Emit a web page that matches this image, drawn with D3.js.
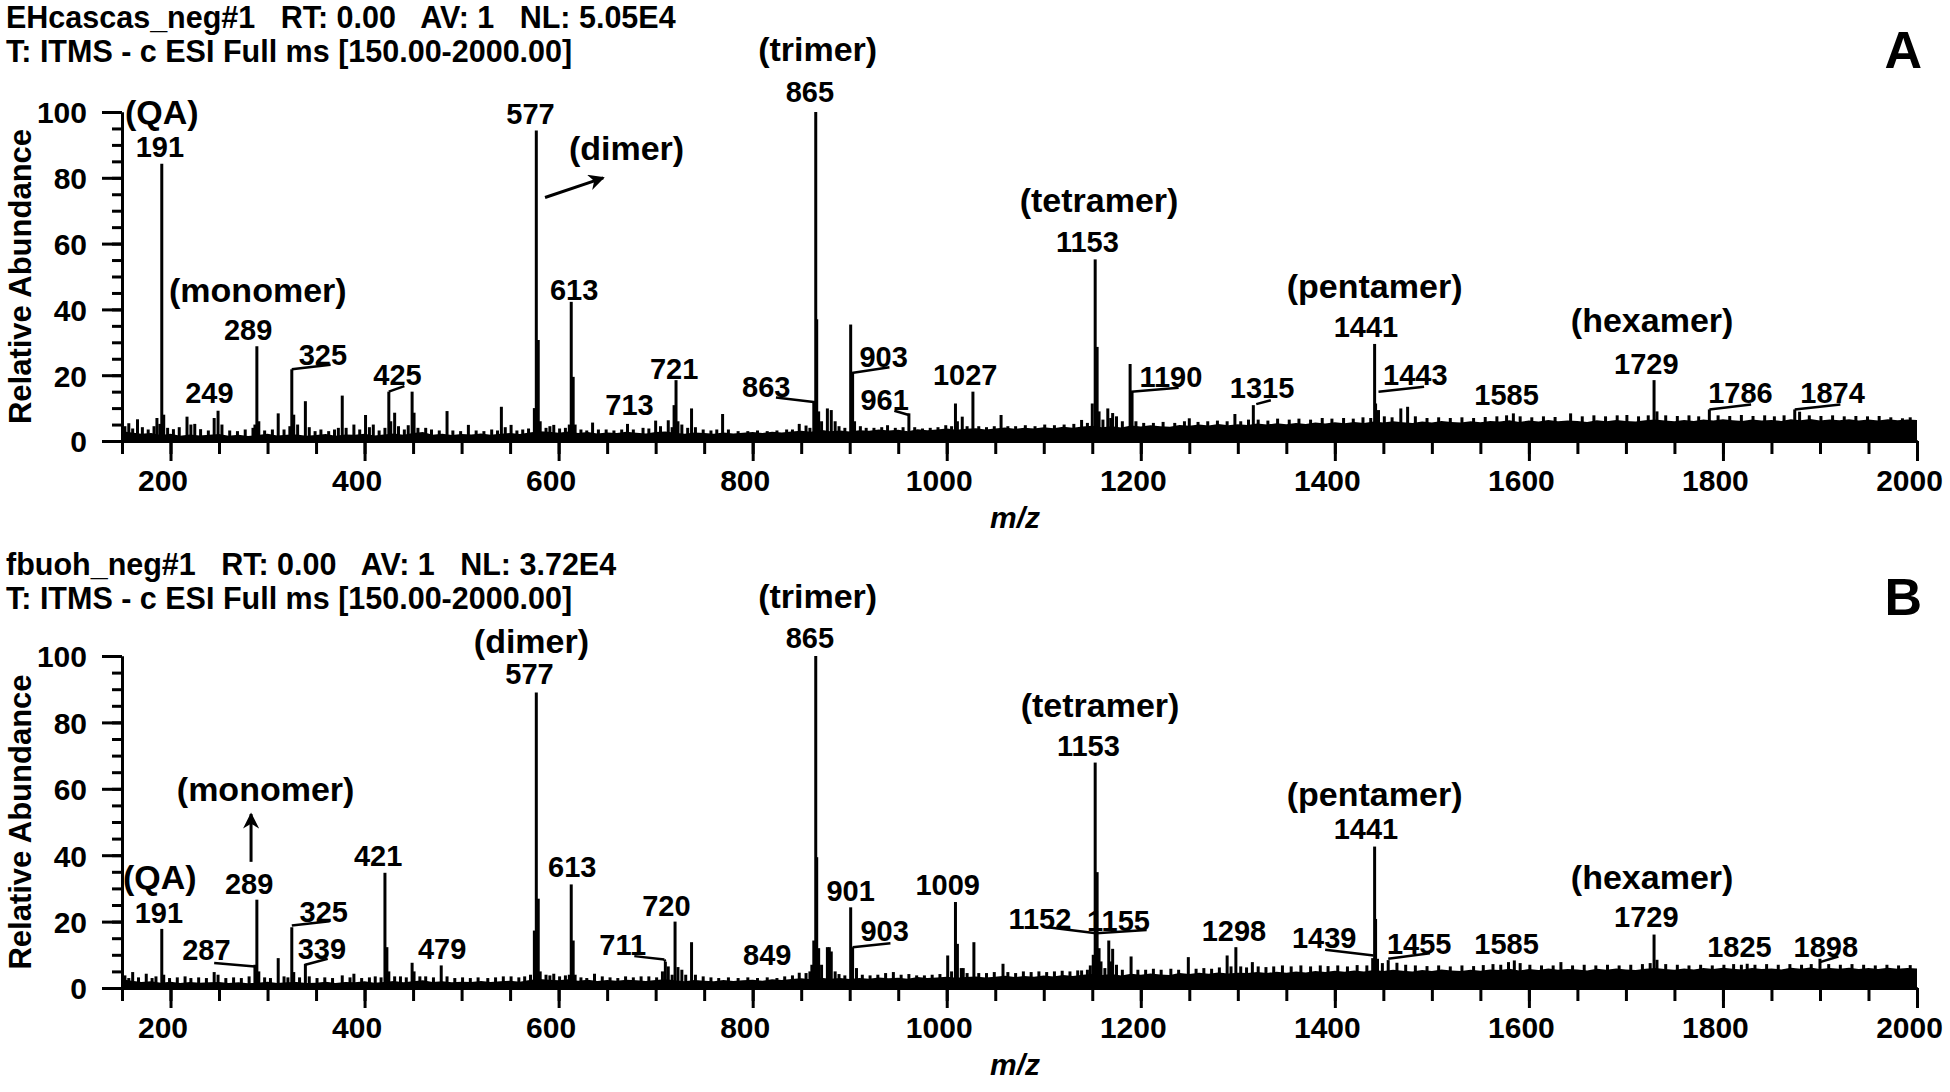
<!DOCTYPE html>
<html>
<head>
<meta charset="utf-8">
<script src="https://cdn.jsdelivr.net/npm/d3@7"></script>
<style>
  body { margin: 0; background: #fff; }
  text { font-family: "Liberation Sans", Arial, sans-serif; font-weight: bold; fill: #000; }
  .axis path, .axis line { stroke: #000; stroke-width: 3; }
</style>
</head>
<body>
<svg id="chart" width="1950" height="1092"></svg>
<script>
// ---- data (m/z, relative abundance %) ----
const xTicks = [200, 400, 600, 800, 1000, 1200, 1400, 1600, 1800, 2000];
const yTicks = [0, 20, 40, 60, 80, 100];

const titleA = ["EHcascas_neg#1   RT: 0.00   AV: 1   NL: 5.05E4", "T: ITMS - c ESI Full ms [150.00-2000.00]"];
const titleB = ["fbuoh_neg#1   RT: 0.00   AV: 1   NL: 3.72E4", "T: ITMS - c ESI Full ms [150.00-2000.00]"];

// baseline "grass", one value every 10 m/z from 150 to 2000
const noiseMz = d3.range(150, 2001, 10);
const noiseA = [
  3.0,2.6,2.2,2.4,1.8,2.2,1.6,2.0,1.7,1.9,
  2.1,1.6,1.9,1.5,1.8,2.2,1.7,1.9,2.0,1.6,
  1.8,2.1,1.6,2.0,1.9,2.2,1.7,2.0,2.3,1.9,
  2.4,2.7,1.9,2.2,1.8,2.1,2.0,2.3,1.9,2.2,
  2.4,2.1,2.6,3.0,2.8,2.5,2.9,2.4,2.7,2.3,
  2.6,2.4,2.8,2.5,2.3,2.7,2.9,2.5,2.2,2.6,
  2.4,2.2,2.6,2.3,2.5,2.7,2.4,2.8,2.6,2.9,
  3.1,2.8,3.4,3.0,3.2,2.9,3.3,3.1,3.5,3.2,
  3.4,3.0,3.6,3.3,3.5,3.8,3.4,3.7,3.9,3.5,
  3.8,4.1,3.7,4.0,3.8,4.2,3.9,4.3,4.0,4.4,
  4.6,4.2,4.5,4.1,4.7,4.4,4.8,4.5,4.3,4.9,
  4.6,5.0,4.7,5.2,4.8,5.1,4.9,5.3,5.0,5.4,
  5.1,5.5,5.2,5.6,5.3,5.7,5.4,5.8,5.5,5.9,
  5.6,6.0,5.7,5.5,5.9,5.6,6.1,5.8,5.6,6.0,
  5.7,6.1,5.9,6.3,5.8,6.2,5.9,6.4,6.0,6.2,
  6.1,5.8,6.3,6.0,6.4,6.1,5.9,6.3,6.5,6.2,
  6.0,6.4,6.1,6.5,6.2,6.6,6.3,6.1,6.5,6.2,
  6.4,6.1,6.6,6.3,6.7,6.2,6.5,6.3,6.6,6.2,
  6.5,6.2,6.6,6.3,6.5,6.4
];
const noiseB = [
  2.6,2.2,1.8,2.0,1.6,1.9,1.5,1.8,1.6,1.7,
  1.8,1.5,1.7,1.4,1.6,1.9,1.5,1.7,1.8,1.5,
  1.6,1.9,1.5,1.8,1.7,2.0,1.6,1.8,2.1,1.7,
  2.0,2.3,1.8,2.0,1.7,1.9,1.8,2.1,1.8,2.0,
  2.2,1.9,2.4,2.7,2.5,2.3,2.6,2.2,2.5,2.1,
  2.4,2.2,2.5,2.3,2.1,2.4,2.6,2.3,2.0,2.4,
  2.2,2.0,2.4,2.1,2.3,2.5,2.2,2.6,2.4,2.7,
  2.9,2.6,3.1,2.8,3.0,2.7,3.0,2.8,3.2,2.9,
  3.1,2.8,3.3,3.0,3.2,3.4,3.1,3.3,3.5,3.2,
  3.4,3.7,3.3,3.6,3.4,3.8,3.5,3.9,3.6,4.0,
  4.2,3.9,4.2,3.8,4.3,4.0,4.4,4.1,3.9,4.5,
  4.2,4.6,4.3,4.7,4.4,4.6,4.5,4.8,4.5,4.9,
  4.6,5.0,4.7,5.1,4.8,5.2,4.9,5.3,5.0,5.4,
  5.1,5.5,5.2,5.0,5.4,5.1,5.6,5.3,5.1,5.5,
  5.2,5.6,5.4,5.8,5.3,5.7,5.4,5.9,5.5,5.7,
  5.6,5.3,5.8,5.5,5.9,5.6,5.4,5.8,6.0,5.7,
  5.5,5.9,5.6,6.0,5.7,6.1,5.8,5.6,6.0,5.7,
  5.9,5.6,6.1,5.8,6.2,5.7,6.0,5.8,6.1,5.7,
  6.0,5.7,6.1,5.8,6.0,5.9
];

const peaksA = [
  [153,4.5],[157,5.4],[161,3.8],[166,6.6],[171,4.2],[177,3.5],[183,4.5],[186,7.0],[189,5.2],[191,84.3],
  [193,8.0],[197,4.0],[203,3.6],[209,4.2],[217,7.4],[221,5.0],[225,5.2],[231,3.6],[239,3.2],[245,7.0],
  [249,9.2],[253,5.0],[261,3.2],[269,3.0],[277,3.5],[285,4.0],[287,5.0],[289,28.8],[291,6.0],[297,3.2],
  [305,3.5],[311,8.4],[317,3.5],[323,4.5],[325,21.8],[327,8.0],[331,5.0],[339,12.1],[343,4.2],[349,3.0],
  [355,3.5],[363,3.0],[369,3.5],[373,4.0],[377,13.8],[381,4.0],[389,5.0],[395,3.5],[401,7.9],[405,4.2],
  [409,5.0],[415,3.2],[421,4.0],[425,15.0],[427,6.0],[431,8.6],[435,4.5],[441,3.5],[445,4.8],[449,15.0],
  [451,8.6],[455,4.0],[463,4.0],[469,3.5],[477,3.2],[485,9.1],[491,3.2],[499,3.0],[507,4.9],[515,3.2],
  [523,3.0],[531,3.5],[537,3.2],[541,10.4],[545,4.2],[551,4.9],[557,3.2],[563,3.5],[569,3.8],[575,10.0],
  [577,94.4],[579,30.7],[581,6.0],[587,4.0],[591,4.5],[595,4.9],[601,3.8],[607,4.0],[611,5.0],[613,42.3],
  [615,19.5],[617,5.0],[623,3.5],[629,3.2],[635,5.6],[641,3.5],[649,3.5],[657,3.2],[665,3.5],[671,5.2],
  [677,3.5],[687,4.0],[693,3.8],[700,6.2],[705,4.5],[713,6.3],[717,4.2],[719,10.9],[721,18.5],[723,6.0],
  [727,5.0],[733,4.0],[737,9.9],[741,4.2],[749,3.5],[757,3.2],[763,3.5],[769,8.2],[775,3.5],[785,3.0],
  [795,3.0],[805,3.2],[815,3.0],[825,3.2],[835,3.5],[841,3.5],[848,5.2],[855,4.7],[859,4.0],[863,12.0],
  [865,100],[866,37.0],[868,9.0],[871,6.0],[877,9.9],[881,9.4],[885,6.0],[889,4.5],[895,4.0],[901,35.4],
  [903,20.7],[905,6.0],[911,4.5],[917,4.0],[925,4.0],[933,4.2],[939,4.8],[947,4.0],[955,4.2],[961,8.4],
  [967,4.2],[975,3.8],[983,4.0],[991,4.2],[999,4.8],[1005,4.5],[1009,11.4],[1011,6.0],[1016,7.4],[1021,4.5],
  [1027,15.0],[1033,4.5],[1041,4.2],[1049,4.5],[1056,7.9],[1063,4.5],[1071,4.5],[1081,4.8],[1091,4.5],[1101,5.0],
  [1111,4.8],[1121,5.0],[1131,5.2],[1139,6.4],[1145,5.5],[1150,11.4],[1153,55.2],[1155,28.6],[1157,9.0],[1161,6.5],
  [1166,9.9],[1169,7.0],[1171,8.5],[1175,7.5],[1181,6.0],[1189,23.4],[1191,15.0],[1195,6.0],[1203,5.5],[1213,5.5],
  [1223,5.8],[1235,5.5],[1245,6.0],[1250,6.9],[1259,5.8],[1269,6.0],[1279,6.2],[1289,6.0],[1297,8.2],[1303,6.0],
  [1311,6.5],[1316,10.9],[1321,6.5],[1331,6.2],[1341,6.8],[1353,6.5],[1363,6.8],[1375,6.5],[1387,7.0],[1397,6.8],
  [1409,7.0],[1419,6.8],[1429,7.2],[1437,7.0],[1441,29.5],[1442,11.4],[1445,9.4],[1451,7.5],[1459,7.2],[1468,9.9],
  [1475,10.4],[1483,7.5],[1495,7.0],[1507,7.2],[1519,7.0],[1531,7.2],[1543,7.0],[1555,7.3],[1567,7.5],[1577,7.8],
  [1584,8.4],[1591,7.5],[1603,7.2],[1615,7.5],[1627,7.3],[1643,8.4],[1655,7.5],[1667,7.8],[1679,7.5],[1691,7.8],
  [1701,7.9],[1713,7.5],[1723,7.8],[1729,18.5],[1732,9.0],[1741,7.8],[1753,7.6],[1765,7.8],[1775,7.5],[1786,9.6],
  [1795,7.8],[1807,7.6],[1819,7.9],[1831,7.6],[1843,7.8],[1853,7.5],[1863,7.8],[1874,9.6],[1879,8.9],[1889,7.8],
  [1901,7.6],[1913,7.8],[1925,7.5],[1937,7.6],[1949,7.5],[1961,7.6],[1973,7.2],[1985,6.9],[1993,7.2]
];

const peaksB = [
  [153,3.8],[157,3.0],[161,4.8],[167,3.2],[175,4.3],[181,3.0],[185,3.5],[191,17.8],[193,4.0],[199,3.0],
  [207,3.2],[215,3.5],[221,3.0],[229,3.2],[237,3.0],[245,4.8],[249,4.0],[257,3.0],[265,3.2],[273,3.0],
  [281,3.5],[287,7.0],[289,26.6],[291,5.0],[297,3.2],[303,3.0],[311,9.0],[317,3.5],[321,3.2],[325,18.3],
  [327,4.8],[333,3.2],[339,7.3],[343,3.5],[351,3.0],[359,3.2],[367,3.0],[377,3.8],[385,3.2],[389,4.3],
  [397,3.0],[405,3.2],[411,3.5],[417,3.2],[421,34.7],[423,12.3],[425,5.0],[431,3.5],[437,3.5],[443,3.2],
  [449,7.6],[451,5.0],[457,3.5],[463,3.5],[471,3.2],[479,6.8],[485,3.5],[493,3.0],[501,3.2],[509,3.0],
  [517,3.2],[527,3.0],[535,3.2],[543,3.5],[551,3.5],[559,3.2],[565,3.5],[571,4.0],[575,17.3],[577,89.0],
  [579,26.9],[581,5.0],[587,4.0],[591,3.8],[595,4.3],[601,3.5],[607,3.8],[611,4.0],[613,31.2],[615,14.3],
  [617,4.0],[623,3.2],[629,3.0],[637,4.3],[645,3.5],[653,3.2],[661,3.0],[669,3.5],[677,3.2],[685,3.5],
  [693,3.5],[701,3.2],[707,5.0],[710,7.9],[713,6.5],[717,4.0],[720,20.0],[723,6.3],[727,5.5],[731,4.0],
  [737,13.8],[741,4.0],[749,3.5],[757,3.2],[765,3.0],[775,3.2],[785,3.0],[795,3.2],[805,3.0],[815,3.2],
  [825,3.0],[833,3.5],[841,3.8],[848,4.6],[855,4.5],[859,5.0],[861,7.0],[863,14.3],[865,100],[866,39.4],
  [868,12.0],[871,7.0],[877,12.3],[879,12.3],[881,11.0],[885,5.0],[889,4.2],[895,3.8],[901,24.3],[903,12.3],
  [907,6.0],[913,4.0],[921,3.8],[929,4.0],[937,4.5],[945,4.8],[953,4.0],[961,4.2],[969,3.8],[977,3.8],
  [985,4.0],[993,4.2],[1001,9.8],[1005,5.0],[1009,25.9],[1011,13.3],[1015,6.0],[1017,6.0],[1021,4.5],[1028,13.8],
  [1033,4.5],[1041,4.5],[1049,4.8],[1058,7.3],[1063,4.8],[1071,4.5],[1079,5.0],[1087,4.8],[1095,5.0],[1103,4.8],
  [1111,5.0],[1119,5.2],[1127,5.0],[1135,5.3],[1139,5.3],[1145,5.5],[1148,6.8],[1151,10.0],[1153,67.9],[1155,34.9],
  [1157,12.0],[1159,8.0],[1163,6.0],[1167,14.3],[1169,8.0],[1171,11.8],[1175,7.0],[1181,5.5],[1190,9.5],[1197,5.5],
  [1205,5.5],[1213,5.8],[1221,5.5],[1231,5.8],[1239,5.5],[1249,9.3],[1257,5.8],[1265,6.0],[1273,5.8],[1281,6.2],
  [1289,9.8],[1293,6.5],[1298,12.3],[1303,6.5],[1309,6.2],[1315,7.8],[1321,6.5],[1329,6.3],[1337,6.5],[1346,6.8],
  [1355,6.5],[1365,6.8],[1375,6.5],[1385,6.8],[1393,6.6],[1403,6.8],[1413,6.5],[1423,6.9],[1433,6.8],[1439,9.0],
  [1441,42.6],[1442,20.8],[1444,8.8],[1449,7.5],[1455,8.4],[1464,7.6],[1473,7.0],[1483,6.8],[1495,6.6],[1507,6.8],
  [1519,6.5],[1531,6.8],[1543,6.6],[1553,6.9],[1563,7.2],[1571,7.0],[1579,7.8],[1585,8.3],[1591,7.5],[1601,7.0],
  [1613,6.8],[1625,6.8],[1633,7.8],[1645,6.8],[1657,7.0],[1669,6.8],[1681,7.0],[1693,6.8],[1705,7.0],[1717,7.2],
  [1725,7.5],[1729,16.1],[1732,8.5],[1741,7.2],[1753,7.0],[1765,6.8],[1777,7.0],[1789,6.8],[1801,7.0],[1811,7.2],
  [1819,7.0],[1825,7.3],[1833,7.0],[1845,7.2],[1857,7.0],[1869,7.2],[1881,7.0],[1891,7.2],[1900,8.8],[1909,7.2],
  [1921,7.0],[1933,7.2],[1945,7.0],[1957,6.8],[1969,7.0],[1981,6.8],[1993,6.9]
];

// annotations: [text, m/z, abundance of text baseline]
const labelsA = [
  ["(QA)", 191, 96.5], ["191", 189, 86.3], ["(monomer)", 290, 42.3], ["289", 280, 30.7],
  ["249", 240, 11.4], ["325", 357, 23], ["425", 434, 17], ["577", 571, 96.5],
  ["(dimer)", 670, 85.5], ["613", 616, 42.8], ["713", 673, 7.9], ["721", 719, 18.7],
  ["863", 814, 13.5], ["865", 859, 103], ["(trimer)", 867, 115.5], ["903", 935, 22.6],
  ["961", 936, 9.4], ["1027", 1019, 17], ["(tetramer)", 1157, 69.6], ["1153", 1145, 57.5],
  ["1190", 1231, 16.5], ["1315", 1325, 13], ["(pentamer)", 1441, 43.5], ["1441", 1432, 31.7],
  ["1443", 1483, 17], ["1585", 1577, 10.9], ["(hexamer)", 1727, 33.2], ["1729", 1721, 20.5],
  ["1786", 1818, 11.4], ["1874", 1913, 11.4]
];
const labelsB = [
  ["(dimer)", 572, 101], ["577", 570, 91.5], ["(monomer)", 298, 56.4], ["(QA)", 189, 29.9],
  ["289", 281, 28.4], ["191", 188, 19.5], ["325", 358, 19.8], ["287", 237, 8.3],
  ["339", 356, 8.8], ["421", 414, 36.6], ["479", 480, 8.8], ["613", 614, 33.4],
  ["711", 666, 9.9], ["720", 711, 21.8], ["849", 815, 6.9], ["865", 859, 102.5],
  ["(trimer)", 867, 114.5], ["901", 901, 26.2], ["903", 936, 14.3], ["1009", 1001, 27.9],
  ["(tetramer)", 1158, 81.5], ["1153", 1146, 70], ["1152", 1096, 17.8], ["1155", 1177, 17.3],
  ["1298", 1296, 14.3], ["1439", 1389, 12], ["1441", 1432, 44.9], ["(pentamer)", 1441, 54.9],
  ["1455", 1487, 10.3], ["1585", 1577, 10.3], ["(hexamer)", 1727, 29.9], ["1729", 1721, 18.3],
  ["1825", 1817, 9.3], ["1898", 1906, 9.3]
];

// leader lines: [m/z1, abundance1, m/z2, abundance2]
const leadersA = [
  [325, 21.8, 365, 23.2], [425, 15, 441, 16.7], [824, 13.2, 865, 11.8], [902, 20.7, 941, 22.4],
  [946, 9.2, 961, 7.9], [1190, 15, 1239, 16.2], [1319, 11.2, 1334, 12.4], [1445, 15, 1492, 16.5],
  [1786, 9.6, 1829, 11.1], [1874, 9.6, 1921, 11.1]
];
const leadersB = [
  [325, 18.8, 364, 20.1], [245, 7.5, 287, 6.5], [339, 7, 362, 8.8], [678, 9.6, 709, 8.6],
  [709, 8.6, 710, 7.9], [903, 12.3, 942, 13.5], [1104, 18.3, 1154, 16.5], [1154, 16.5, 1206, 17.5],
  [1390, 11.5, 1440, 9.8], [1455, 8.8, 1498, 10.5], [1900, 7.8, 1919, 9.5]
];

// arrows: [m/z from, abundance from, m/z to, abundance to]
const arrowsA = [[586, 74, 646, 80]];
const arrowsB = [[283, 38, 283, 52.4]];

const panels = [
  { letter: "A", title: titleA, noise: noiseA, peaks: peaksA, labels: labelsA, leaders: leadersA, arrows: arrowsA, top: 112, bottom: 441 },
  { letter: "B", title: titleB, noise: noiseB, peaks: peaksB, labels: labelsB, leaders: leadersB, arrows: arrowsB, top: 656, bottom: 988 }
];

const svg = d3.select("#chart");
const x = d3.scaleLinear().domain([150, 2000]).range([122, 1917]);

svg.append("defs").append("marker")
  .attr("id", "arrow")
  .attr("viewBox", "0 0 10 10")
  .attr("refX", 9).attr("refY", 5)
  .attr("markerUnits", "userSpaceOnUse")
  .attr("markerWidth", 20).attr("markerHeight", 16)
  .attr("orient", "auto")
  .append("path")
  .attr("d", "M0,0 L10,5 L0,10 L3,5 Z")
  .attr("fill", "#000");

function drawPanel(p) {
  const y = d3.scaleLinear().domain([0, 100]).range([p.bottom, p.top]);
  const g = svg.append("g");

  // baseline grass
  const area = d3.area()
    .x(d => x(d[0]))
    .y0(y(0))
    .y1(d => y(d[1]));
  g.append("path")
    .datum(d3.zip(noiseMz, p.noise))
    .attr("d", area)
    .attr("fill", "#000");

  // peaks as sticks
  g.append("g").selectAll("line")
    .data(p.peaks)
    .join("line")
    .attr("x1", d => x(d[0])).attr("x2", d => x(d[0]))
    .attr("y1", y(0)).attr("y2", d => y(d[1]))
    .attr("stroke", "#000")
    .attr("stroke-width", 3);

  // axes: minor + major ticks
  g.append("g").attr("class", "axis")
    .attr("transform", `translate(${x(150)},0)`)
    .call(d3.axisLeft(y).tickValues(d3.range(0, 101, 5)).tickSize(10).tickSizeOuter(0).tickFormat(""));
  const yAx = g.append("g").attr("class", "axis")
    .attr("transform", `translate(${x(150)},0)`)
    .call(d3.axisLeft(y).tickValues(yTicks).tickSize(20).tickSizeOuter(0).tickPadding(15));
  yAx.selectAll("text").attr("font-size", 30).attr("dy", "0.36em");

  g.append("g").attr("class", "axis")
    .attr("transform", `translate(0,${y(0)})`)
    .call(d3.axisBottom(x).tickValues(d3.range(150, 2001, 50)).tickSize(13).tickSizeOuter(0).tickFormat(""));
  const xAx = g.append("g").attr("class", "axis")
    .attr("transform", `translate(0,${y(0)})`)
    .call(d3.axisBottom(x).tickValues(xTicks).tickSize(20).tickSizeOuter(0).tickPadding(9).tickFormat(d3.format("d")));
  xAx.selectAll("text").attr("font-size", 30).attr("dx", -8);
  g.selectAll(".axis").attr("font-family", null);

  // axis titles
  g.append("text")
    .attr("transform", `translate(31,${(p.top + p.bottom) / 2}) rotate(-90)`)
    .attr("text-anchor", "middle")
    .attr("font-size", 31)
    .text("Relative Abundance");
  g.append("text")
    .attr("x", 1015).attr("y", p.bottom + 87)
    .attr("text-anchor", "middle")
    .attr("font-size", 30)
    .attr("font-style", "italic")
    .text("m/z");

  // scan header
  g.selectAll(".hdr")
    .data(p.title)
    .join("text")
    .attr("x", 6)
    .attr("y", (d, i) => p.bottom - 413 + i * 34)
    .attr("font-size", 30.5)
    .style("white-space", "pre")
    .text(d => d);

  g.append("text")
    .attr("x", 1922).attr("y", p.bottom - 373)
    .attr("text-anchor", "end")
    .attr("font-size", 52)
    .text(p.letter);

  // leaders and arrows
  g.append("g").selectAll("line")
    .data(p.leaders)
    .join("line")
    .attr("x1", d => x(d[0])).attr("y1", d => y(d[1]))
    .attr("x2", d => x(d[2])).attr("y2", d => y(d[3]))
    .attr("stroke", "#000").attr("stroke-width", 2.5);
  g.append("g").selectAll("line")
    .data(p.arrows)
    .join("line")
    .attr("x1", d => x(d[0])).attr("y1", d => y(d[1]))
    .attr("x2", d => x(d[2])).attr("y2", d => y(d[3]))
    .attr("stroke", "#000").attr("stroke-width", 3)
    .attr("marker-end", "url(#arrow)");

  // peak annotations
  g.append("g").selectAll("text")
    .data(p.labels)
    .join("text")
    .attr("x", d => x(d[1]))
    .attr("y", d => y(d[2]))
    .attr("text-anchor", "middle")
    .attr("font-size", d => d[0].startsWith("(") ? 34 : 29)
    .text(d => d[0]);
}

panels.forEach(drawPanel);
</script>
</body>
</html>
